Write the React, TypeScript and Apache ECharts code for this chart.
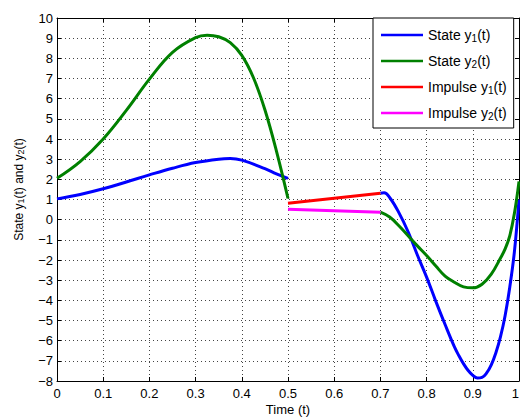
import React, { useEffect, useRef } from "react";
import * as echarts from "echarts";

// ---- data ----
const T1A = [0, 0.05, 0.1, 0.15, 0.2, 0.25, 0.3, 0.35, 0.375, 0.4, 0.45, 0.475, 0.5];
const Y1A = [1.03, 1.25, 1.53, 1.87, 2.22, 2.55, 2.83, 3.0, 3.03, 2.95, 2.53, 2.27, 2.05];

const T2A = [0, 0.05, 0.1, 0.15, 0.2, 0.25, 0.3, 0.325, 0.35, 0.375, 0.4, 0.425, 0.45, 0.475, 0.5];
const Y2A = [2.05, 2.88, 4.0, 5.42, 6.97, 8.3, 9.03, 9.15, 9.07, 8.78, 8.15, 7.05, 5.45, 3.4, 1.05];

const T1B = [0.7, 0.708, 0.72, 0.74, 0.76, 0.78, 0.8, 0.82, 0.84, 0.86, 0.87, 0.88, 0.89, 0.9, 0.91, 0.92, 0.93, 0.94, 0.95, 0.96, 0.97, 0.98, 0.99, 1.0];
const Y1B = [1.31, 1.33, 1.1, 0.35, -0.6, -1.75, -2.85, -4.05, -5.2, -6.3, -6.75, -7.15, -7.48, -7.72, -7.85, -7.82, -7.6, -7.2, -6.6, -5.8, -4.75, -3.35, -1.6, 1.0];

const T2B = [0.7, 0.72, 0.74, 0.76, 0.78, 0.8, 0.82, 0.84, 0.86, 0.88, 0.9, 0.92, 0.94, 0.96, 0.97, 0.98, 0.99, 1.0];
const Y2B = [0.37, 0.13, -0.3, -0.8, -1.3, -1.78, -2.3, -2.8, -3.1, -3.33, -3.38, -3.2, -2.7, -1.9, -1.45, -0.8, 0.3, 1.9];

const TI = [0.5, 0.7];
const IMP1 = [0.81, 1.31];
const IMP2 = [0.52, 0.37];

const LEGEND_NAMES = ["y1", "y2", "i1", "i2"];
const LEGEND_LABELS: Record<string, string> = {
  y1: "State y{s|1}(t)",
  y2: "State y{s|2}(t)",
  i1: "Impulse y{s|1}(t)",
  i2: "Impulse y{s|2}(t)",
};

const FONT = "'Liberation Sans', Arial, Helvetica, sans-serif";
const pairs = (ts: number[], ys: number[]) => ts.map((t, i) => [t, ys[i]]);

const gridLine = { show: true, lineStyle: { color: "#444", width: 1, type: [1, 3] as any } };

function buildOption(): any {
  const lineSeries = (name: string, ts: number[], ys: number[], color: string, z: number) => ({
    type: "line",
    name,
    data: pairs(ts, ys),
    smooth: 0.4,
    showSymbol: false,
    symbol: "none",
    z,
    lineStyle: { color, width: 3 },
    itemStyle: { color },
    emphasis: { disabled: true },
  });
  return {
    animation: false,
    backgroundColor: "#fff",
    grid: { left: 57, right: 1, top: 18, bottom: 36, containLabel: false, outerBoundsMode: "none" },
    legend: {
      orient: "vertical",
      left: 373,
      top: 18,
      padding: [9, 7, 7, 8],
      itemWidth: 42,
      itemHeight: 2.5,
      itemGap: 10,
      icon: "rect",
      backgroundColor: "#fff",
      borderColor: "#000",
      borderWidth: 1,
      borderRadius: 0,
      selectedMode: false,
      data: LEGEND_NAMES,
      formatter: (n: string) => LEGEND_LABELS[n],
      textStyle: {
        fontFamily: FONT,
        fontSize: 14,
        color: "#000",
        lineHeight: 16,
        rich: {
          s: { fontSize: 10, fontFamily: FONT, color: "#000", verticalAlign: "bottom", lineHeight: 9 },
        },
      },
    },
    xAxis: [
      {
        type: "value",
        position: "bottom",
        min: 0,
        max: 1,
        interval: 0.1,
        name: "Time (t)",
        nameLocation: "middle",
        nameGap: 22,
        nameMoveOverlap: false,
        nameTextStyle: { fontFamily: FONT, fontSize: 13, lineHeight: 13, color: "#000" },
        axisLine: { show: true, onZero: false, lineStyle: { color: "#000", width: 1 } },
        axisTick: { show: true, inside: true, length: 4, lineStyle: { color: "#000" } },
        axisLabel: { color: "#000", fontFamily: FONT, fontSize: 13, margin: 6, alignMaxLabel: "right" },
        splitLine: gridLine,
      },
      {
        type: "value",
        position: "top",
        min: 0,
        max: 1,
        interval: 0.1,
        axisLine: { show: true, onZero: false, lineStyle: { color: "#000", width: 1 } },
        axisTick: { show: true, inside: true, length: 4, lineStyle: { color: "#000" } },
        axisLabel: { show: false },
        splitLine: { show: false },
      },
    ],
    yAxis: [
      {
        type: "value",
        position: "left",
        min: -8,
        max: 10,
        interval: 1,
        name: "State y{s|1}(t) and y{s|2}(t)",
        nameLocation: "middle",
        nameGap: 32,
        nameMoveOverlap: false,
        nameTextStyle: {
          fontFamily: FONT,
          fontSize: 12,
          color: "#000",
          padding: [0, 0, 0, 20],
          rich: { s: { fontSize: 9, fontFamily: FONT, color: "#000", verticalAlign: "bottom", lineHeight: 8 } },
        },
        axisLine: { show: true, onZero: false, lineStyle: { color: "#000", width: 1 } },
        axisTick: { show: true, inside: true, length: 4, lineStyle: { color: "#000" } },
        axisLabel: {
          color: "#000",
          fontFamily: FONT,
          fontSize: 13,
          margin: 4,
          formatter: (v: number) => (v < 0 ? "\u2212" + String(-v) : String(v)),
        },
        splitLine: gridLine,
      },
      {
        type: "value",
        position: "right",
        min: -8,
        max: 10,
        interval: 1,
        axisLine: { show: true, onZero: false, lineStyle: { color: "#000", width: 1 } },
        axisTick: { show: true, inside: true, length: 4, lineStyle: { color: "#000" } },
        axisLabel: { show: false },
        splitLine: { show: false },
      },
    ],
    series: [
      lineSeries("y1", T1A, Y1A, "#0000ff", 2),
      lineSeries("y1", T1B, Y1B, "#0000ff", 2),
      lineSeries("y2", T2A, Y2A, "#008000", 3),
      lineSeries("y2", T2B, Y2B, "#008000", 3),
      { ...lineSeries("i1", TI, IMP1, "#ff0000", 4), smooth: false },
      { ...lineSeries("i2", TI, IMP2, "#ff00ff", 4), smooth: false },
    ],
  };
}

export default function App() {
  const ref = useRef<HTMLDivElement>(null);
  useEffect(() => {
    if (!ref.current) return;
    const chart = echarts.init(ref.current, null, { renderer: "svg" });
    chart.setOption(buildOption());
    return () => chart.dispose();
  }, []);
  return (
    <div
      ref={ref}
      style={{ position: "fixed", left: 0, top: 0, width: 520, height: 417, background: "#fff" }}
    />
  );
}
